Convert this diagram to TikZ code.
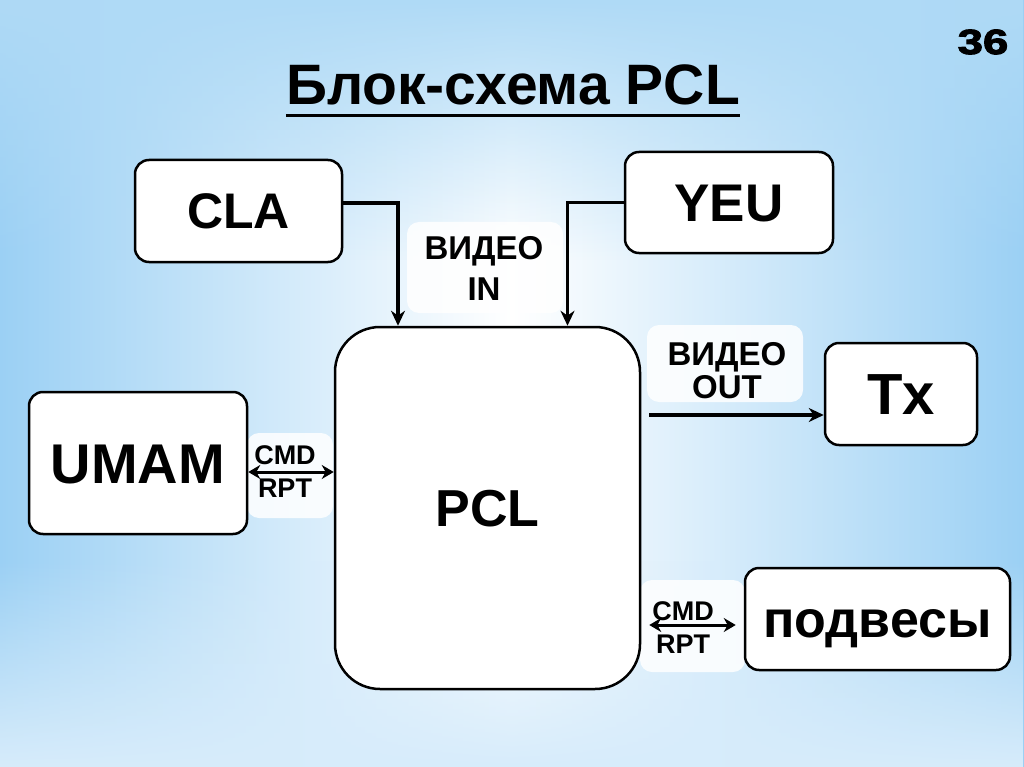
\documentclass[tikz,border=0pt]{standalone}
\usepackage{fontspec}
\setmainfont{Liberation Sans}
\newfontfamily\heavyfont{Liberation Sans Bold}[FakeBold=3,FakeStretch=1.3]
\usetikzlibrary{arrows.meta,fadings}
\definecolor{bgblue}{RGB}{155,208,244}
\begin{document}
\begin{tikzpicture}[x=1pt,y=-1pt,
  box/.style={draw=black, line width=2.5pt, fill=white, rounded corners=14pt, inner sep=0pt, text depth=0pt},
  lblbg/.style={fill=white, fill opacity=0.85, rounded corners=12pt, inner sep=0pt},
  lbltext/.style={inner sep=0pt, align=center},
  arr/.style={line width=3.3pt, -{Stealth[length=15pt,width=14pt]}},
  dbl/.style={line width=3pt, {Stealth[length=12pt,width=14pt]}-{Stealth[length=12pt,width=14pt]}}]
% background
\useasboundingbox (0,0) rectangle (1024,767);
\shade[left color=bgblue, right color=bgblue, middle color=white] (0,0) rectangle (1024,767);
\fill[bgblue!80, path fading=south] (0,0) rectangle (1024,260);
\fill[bgblue!40, path fading=north] (0,560) rectangle (1024,767);

% page number and title
\node[inner sep=0pt, font=\heavyfont\fontsize{35}{35}\selectfont] (num) at (983,42) {36};
\node[inner sep=0pt, text height=41pt, text depth=0pt, font=\bfseries\fontsize{57}{57}\selectfont] (title) at (513,84.5) {Блок-схема PCL};
\draw[line width=3pt] ([yshift=-10pt]title.south west) -- ([yshift=-10pt]title.south east);

% label backgrounds
\node[lblbg, minimum width=156pt, minimum height=91pt] (vinbg) at (485,267.5) {};
\node[lblbg, minimum width=156pt, minimum height=77pt] (voutbg) at (725,363.5) {};
\node[lblbg, minimum width=86pt, minimum height=85pt] (cmd1bg) at (290,475.5) {};
\node[lblbg, minimum width=105pt, minimum height=92pt] (cmd2bg) at (692.5,626) {};

% boxes
\node[box, minimum width=207pt, minimum height=102pt, text height=36pt, font=\bfseries\fontsize{50}{50}\selectfont] (cla) at (238.5,211) {CLA};
\node[box, minimum width=208pt, minimum height=101pt, text height=38pt, font=\bfseries\fontsize{53}{53}\selectfont] (yeu) at (729,202.5) {YEU};
\node[box, rounded corners=45pt, minimum width=305pt, minimum height=362pt, text height=37pt, font=\bfseries\fontsize{52}{52}\selectfont] (pcl) at (487.5,508) {PCL};
\node[box, minimum width=218pt, minimum height=142pt, text height=40pt, font=\bfseries\fontsize{56}{56}\selectfont] (umam) at (138,463) {UMAM};
\node[box, minimum width=152pt, minimum height=102pt, text height=41pt, font=\bfseries\fontsize{58}{58}\selectfont] (tx) at (901,394) {Tx};
\node[box, minimum width=265pt, minimum height=102pt, text height=37pt, font=\bfseries\fontsize{52}{52}\selectfont] (podv) at (877.5,619) {подвесы};

% labels
\node[lbltext, font=\bfseries\fontsize{33}{41}\selectfont] (vin) at (484,268.5) {ВИДЕО\\IN};
\node[lbltext, font=\bfseries\fontsize{33}{33}\selectfont] (vout) at (727,371) {ВИДЕО\\OUT};
\node[lbltext, font=\bfseries\fontsize{27}{33}\selectfont] (cmd1) at (285,471.5) {CMD\\RPT};
\node[lbltext, font=\bfseries\fontsize{27}{33}\selectfont] (cmd2) at (683,627.5) {CMD\\RPT};

% connectors
\draw[arr] ([yshift=8pt]cla.east) -| ([xshift=-89.5pt]pcl.north);
\draw[arr] (yeu.west) -| ([xshift=80pt]pcl.north);
\draw[arr] ([shift={(8pt,93pt)}]pcl.east) -- ([yshift=-21pt]tx.west);
\draw[dbl] ([yshift=-9pt]umam.east) -- ([yshift=36pt]pcl.west);
\draw[dbl] ([shift={(8pt,-117pt)}]pcl.east) -- ([shift={(-8pt,-6pt)}]podv.west);
\end{tikzpicture}
\end{document}
